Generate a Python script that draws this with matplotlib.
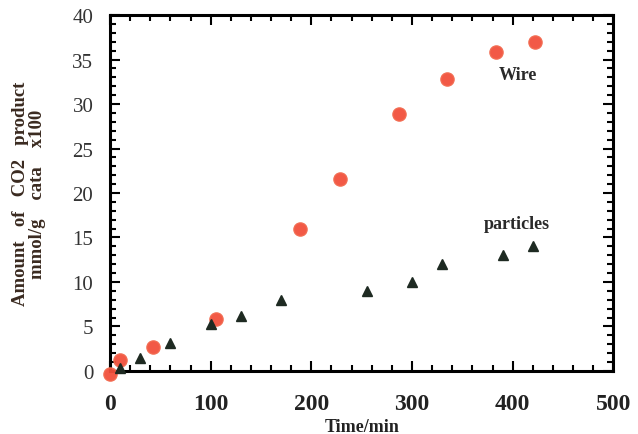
import numpy as np
import matplotlib.pyplot as plt
from matplotlib.ticker import MultipleLocator

# 数据
wire_t = [0, 10, 43, 105, 189, 228, 287, 335, 383, 422]
wire_y = [-0.3, 1.2, 2.7, 5.8, 16.0, 21.6, 28.9, 32.8, 35.8, 37.0]
part_t = [10, 30, 60, 100, 130, 170, 255, 300, 330, 390, 420]
part_y = [0.3, 1.5, 3.1, 5.3, 6.2, 8.0, 9.0, 10.0, 12.0, 13.0, 14.0]

plt.rcParams['font.family'] = ['Liberation Serif', 'DejaVu Serif']

fig = plt.figure(figsize=(6.38, 4.35), dpi=100)
ax = fig.add_axes([0.1724, 0.145, 0.789, 0.818])

ax.plot(wire_t, wire_y, 'o', color='#f2503c', ms=9.5, mec='#f26a50', alpha=0.95,
        clip_on=False, zorder=3)
ax.plot(part_t, part_y, '^', color='#1e2a22', ms=7, clip_on=False, zorder=3)

ax.text(405, 33.3, 'Wire', fontsize=13, fontweight='bold', color='#2a2a2a',
        ha='center', va='center')
ax.text(404, 16.6, 'particles', fontsize=13, fontweight='bold', color='#2a2a2a',
        ha='center', va='center')

ax.set_xlim(0, 500)
ax.set_ylim(0, 40)
ax.xaxis.set_major_locator(MultipleLocator(100))
ax.xaxis.set_minor_locator(MultipleLocator(20))
ax.yaxis.set_major_locator(MultipleLocator(5))
ax.yaxis.set_minor_locator(MultipleLocator(1))

for s in ax.spines.values():
    s.set_linewidth(2.2)

ax.tick_params(which='both', direction='in', top=True, right=True, width=1.5)
ax.tick_params(which='major', length=7)
ax.tick_params(which='minor', length=4)
ax.tick_params(axis='y', which='major', pad=12, labelsize=15, labelcolor='#333333')
ax.tick_params(axis='x', which='major', pad=16, labelsize=17, labelcolor='#222222')
for lb in ax.get_xticklabels():
    lb.set_fontweight('bold')

ax.set_xlabel('Time/min', fontsize=13, fontweight='bold', color='#222222', labelpad=3)
ax.set_ylabel('Amount   of   CO2   product\nmmol/g    cata    x100', fontsize=13.5,
              fontweight='bold', color='#3a2a20', labelpad=19, linespacing=1.0)

fig.savefig('out.png', dpi=100)
